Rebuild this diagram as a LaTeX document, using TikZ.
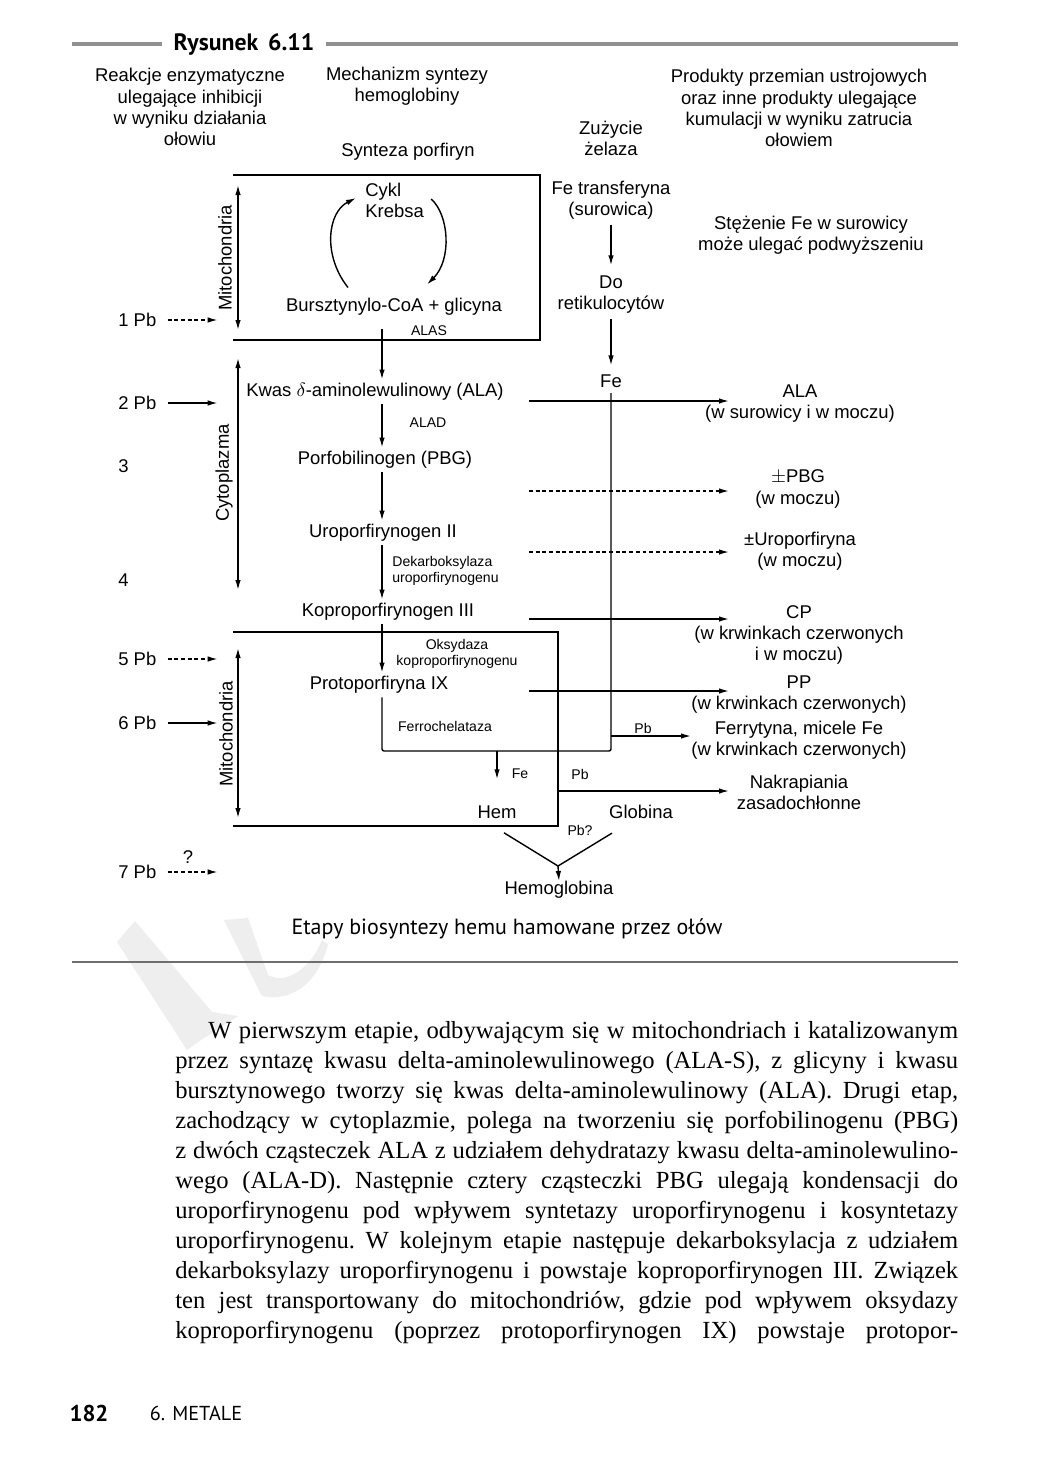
\documentclass[tikz,border=0pt]{standalone}
\usepackage{fontspec}
\setmainfont{Liberation Serif}
\setsansfont{Liberation Sans}
\newfontfamily\capfont{PT Sans}
\usepackage{amsmath,amssymb}
\usetikzlibrary{calc,arrows.meta}

\definecolor{rulegray}{RGB}{145,145,145}
\definecolor{linegray}{RGB}{110,110,110}
\definecolor{wmgray}{RGB}{238,238,238}

\newlength\bodyw
\setlength\bodyw{15.66cm}
\newcommand\bodyline[1]{\hbox to\bodyw{#1}}

\tikzset{
  lbl/.style={font=\sffamily\fontsize{10.5}{12}\selectfont, align=center, inner sep=0pt},
  chain/.style={lbl, inner sep=2pt},
  fecol/.style={lbl, inner sep=3pt},
  enz/.style={font=\sffamily\fontsize{8}{9.5}\selectfont, align=center, inner sep=0pt},
  arr/.style={line width=0.8pt, -{Latex[length=2mm,width=1.1mm]}},
  dsh/.style={arr, dash pattern=on 2.2pt off 1.6pt},
  both/.style={line width=0.8pt, {Latex[length=2mm,width=1.1mm]}-{Latex[length=2mm,width=1.1mm]}},
  box/.style={line width=0.9pt},
  rule/.style={rulegray, line width=2.3pt},
  rulethin/.style={linegray, line width=0.8pt},
  capt/.style={font=\capfont\fontsize{12.5}{15}\selectfont, inner sep=0pt},
  body/.style={font=\rmfamily\fontsize{14}{17.07}\selectfont, inner sep=0pt},
}

\begin{document}
\begin{tikzpicture}[x=0.02cm, y=-0.02cm]
  \useasboundingbox[fill=white] (0,0) rectangle (1046,1484);

  % watermark
  \fill[wmgray] (117,942) -- (135,921) -- (212,1012) -- (238,1016) -- (198,1042) -- (187,1050) -- cycle;
  \fill[wmgray] (224,920) -- (248,918) -- (268,975) .. controls (285,985) and (310,970) .. (322,940)
    -- (328,944) .. controls (318,985) and (290,1002) .. (262,996) -- cycle;

  % header
  \node[font=\capfont\bfseries\fontsize{13.5}{16}\selectfont, inner xsep=0.22cm, inner ysep=0pt] (rys) at (244,44) {Rysunek\, 6.11};
  \draw[rule] (72,44) -- (rys.west);
  \draw[rule] (rys.east) -- (958,44);

  % column headings
  \node[lbl] (reak) at (190,107) {Reakcje enzymatyczne\\ulegające inhibicji\\w wyniku działania\\ołowiu};
  \node[lbl] (mech) at (407,86) {Mechanizm syntezy\\hemoglobiny};
  \node[lbl] (zuz) at (611,138) {Zużycie\\żelaza};
  \node[lbl] (prod) at (799,108) {Produkty przemian ustrojowych\\oraz inne produkty ulegające\\kumulacji w wyniku zatrucia\\ołowiem};
  \node[lbl] (synt) at (408,152) {Synteza porfiryn};

  % upper mitochondria
  \draw[box] (233,175) -- (540,175) -- (540,340) -- (233,340);
  \draw[both] (238,185) -- (238,330);
  \node[lbl, rotate=90] (mitoA) at (225,258) {Mitochondria};
  \node[lbl, anchor=west, align=left] (krebs) at (365,200) {Cykl\\Krebsa};
  \node[chain] (bursz) at (394,307) {Bursztynylo-CoA + glicyna};
  \node[enz] (alas) at (429,331) {ALAS};
  \draw[arr] ([shift={(-46,-7)}]bursz.north) .. controls +(-26,-33) and +(-28,14) .. ([shift={(-9,-2)}]krebs.west);
  \draw[arr] ([shift={(7,-1)}]krebs.east) .. controls +(18,16) and +(25,-25) .. ([shift={(33,-10)}]bursz.north);

  % cytoplasm
  \draw[both] (238,358) -- (238,590);
  \node[lbl, rotate=90] (cyto) at (224,473) {Cytoplazma};
  \coordinate (ax) at (382,0);
  \node[chain] (ala) at (375,392) {Kwas $\delta$-aminolewulinowy (ALA)};
  \node[enz] (alad) at (428,423) {ALAD};
  \node[chain] (pbg) at (385,460) {Porfobilinogen (PBG)};
  \node[chain] (uro) at (383,533) {Uroporfirynogen II};
  \node[enz, anchor=west, align=left] (dekarb) at (392,571) {Dekarboksylaza\\uroporfirynogenu};
  \node[chain] (kopro) at (388,612) {Koproporfirynogen III};

  % lower mitochondria
  \draw[box] (233,632) -- (558,632) -- (558,826) -- (233,826);
  \draw[both] (238,648) -- (238,818);
  \node[lbl, rotate=90] (mitoB) at (226,734) {Mitochondria};
  \node[enz] (oksyd) at (457,654) {Oksydaza\\koproporfirynogenu};
  \node[chain] (proto) at (379,685) {Protoporfiryna IX};
  \node[enz] (ferro) at (445,726) {Ferrochelataza};

  \draw[arr] ($(bursz.south -| ax)+(0,10)$) -- (ala.north -| ax);
  \draw[arr] (ala.south -| ax) -- (pbg.north -| ax);
  \draw[arr] (pbg.south -| ax) -- (uro.north -| ax);
  \draw[arr] (uro.south -| ax) -- (kopro.north -| ax);
  \draw[arr] (kopro.south -| ax) -- (proto.north -| ax);

  % lead entry points
  \node[lbl, anchor=west] (pbI) at (118,320) {1 Pb};
  \node[lbl, anchor=west] (pbII) at (118,403) {2 Pb};
  \node[lbl, anchor=west] (nIII) at (118,466) {3};
  \node[lbl, anchor=west] (nIV) at (118,580) {4};
  \node[lbl, anchor=west] (pbV) at (118,659) {5 Pb};
  \node[lbl, anchor=west] (pbVI) at (118,723) {6 Pb};
  \node[lbl, anchor=west] (pbVII) at (118,872) {7 Pb};
  \node[lbl] (qm) at (188,857) {?};
  \draw[dsh] (pbI.east) ++(11,0) -- ++(50,0);
  \draw[arr] (pbII.east) ++(11,0) -- ++(50,0);
  \draw[dsh] (pbV.east) ++(11,0) -- ++(50,0);
  \draw[arr] (pbVI.east) ++(11,0) -- ++(50,0);
  \draw[dsh] (pbVII.east) ++(11,0) -- ++(50,0);

  % iron
  \node[fecol] (fetr) at (611,200) {Fe transferyna\\(surowica)};
  \node[fecol] (retik) at (611,295) {Do\\retikulocytów};
  \node[fecol] (fe) at (611,381) {Fe};
  \node[lbl] (stez) at (811,235) {Stężenie Fe w surowicy\\może ulegać podwyższeniu};
  \draw[arr, shorten >=3pt] (fetr) -- (retik);
  \draw[arr, shorten >=2pt] (retik) -- (fe);

  \coordinate (fcR) at (611,751);
  \coordinate (fcT) at (497,751);
  \node[enz] (feH) at (520,774) {Fe};
  \node[lbl] (hem) at (497,812) {Hem};
  \node[lbl] (glob) at (641,812) {Globina};
  \node[enz] (pbq) at (580,830) {Pb?};
  \node[lbl] (hemo) at (559,890) {Hemoglobina};
  \draw[line width=0.8pt, rounded corners=1.2pt] (proto.south -| ax) |- (fcR) -- (fe.south);
  \draw[arr] (fcT) -- (fcT |- feH.south);

  \coordinate (vj) at (558,866);
  \draw[line width=0.8pt] ($(hem.south)+(7,14)$) -- (vj) -- ($(glob.south)+(-29,14)$);
  \draw[arr] (vj) -- (hemo.north);

  % products
  \node[lbl] (pALA) at (800,404) {ALA\\(w surowicy i w moczu)};
  \node[lbl] (pPBG) at (798,489) {$\pm$PBG\\(w moczu)};
  \node[lbl] (pURO) at (800,551) {±Uroporfiryna\\(w moczu)};
  \node[lbl] (pCP) at (799,635) {CP\\(w krwinkach czerwonych\\i w moczu)};
  \node[lbl] (pPP) at (799,695) {PP\\(w krwinkach czerwonych)};
  \node[lbl] (pFER) at (799,740) {Ferrytyna, micele Fe\\(w krwinkach czerwonych)};
  \node[lbl] (pNAK) at (799,792) {Nakrapiania\\zasadochłonne};

  \coordinate (rx) at (729,0);
  \coordinate (oALA) at (529,401);
  \coordinate (oPBG) at (529,491);
  \coordinate (oURO) at (529,552);
  \coordinate (oCP) at (529,619);
  \coordinate (oPP) at (529,691);
  \coordinate (oNAK) at (558,791);
  \coordinate (oFER) at (611,736);
  \draw[arr] (oALA) -- (rx |- oALA);
  \draw[dsh] (oPBG) -- (rx |- oPBG);
  \draw[dsh] (oURO) -- (rx |- oURO);
  \draw[arr] (oCP) -- (rx |- oCP);
  \draw[arr] (oPP) -- (rx |- oPP);
  \draw[arr] (oNAK) -- (rx |- oNAK);
  \draw[arr] (oFER) -- (pFER.west |- oFER);
  \node[enz] (pbF) at (643,728) {Pb};
  \node[enz] (pbN) at (580,774) {Pb};

  % caption
  \node[capt] (capt) at (507,929) {Etapy biosyntezy hemu hamowane przez ołów};
  \draw[rulethin] (72,962) -- (958,962);

  % body text
  \node[body, anchor=north west] (txt) at (175,1021) {\frenchspacing\vbox{%
    \bodyline{\hskip0.66cm W pierwszym etapie, odbywającym się w mitochondriach i katalizowanym}
    \bodyline{przez syntazę kwasu delta-aminolewulinowego (ALA-S), z glicyny i kwasu}
    \bodyline{bursztynowego tworzy się kwas delta-aminolewulinowy (ALA). Drugi etap,}
    \bodyline{zachodzący w cytoplazmie, polega na tworzeniu się porfobilinogenu (PBG)}
    \bodyline{z dwóch cząsteczek ALA z udziałem dehydratazy kwasu delta-aminolewulino-}
    \bodyline{wego (ALA-D). Następnie cztery cząsteczki PBG ulegają kondensacji do}
    \bodyline{uroporfirynogenu pod wpływem syntetazy uroporfirynogenu i kosyntetazy}
    \bodyline{uroporfirynogenu. W kolejnym etapie następuje dekarboksylacja z udziałem}
    \bodyline{dekarboksylazy uroporfirynogenu i powstaje koproporfirynogen III. Związek}
    \bodyline{ten jest transportowany do mitochondriów, gdzie pod wpływem oksydazy}
    \bodyline{koproporfirynogenu (poprzez protoporfirynogen IX) powstaje protopor-}}};

  % footer
  \node[font=\capfont\bfseries\fontsize{13}{15}\selectfont, inner sep=0pt] (pnum) at (89,1413) {182};
  \node[font=\capfont\fontsize{11.5}{14}\selectfont, inner sep=0pt] (chap) at (196,1413) {6. METALE};
\end{tikzpicture}
\end{document}
